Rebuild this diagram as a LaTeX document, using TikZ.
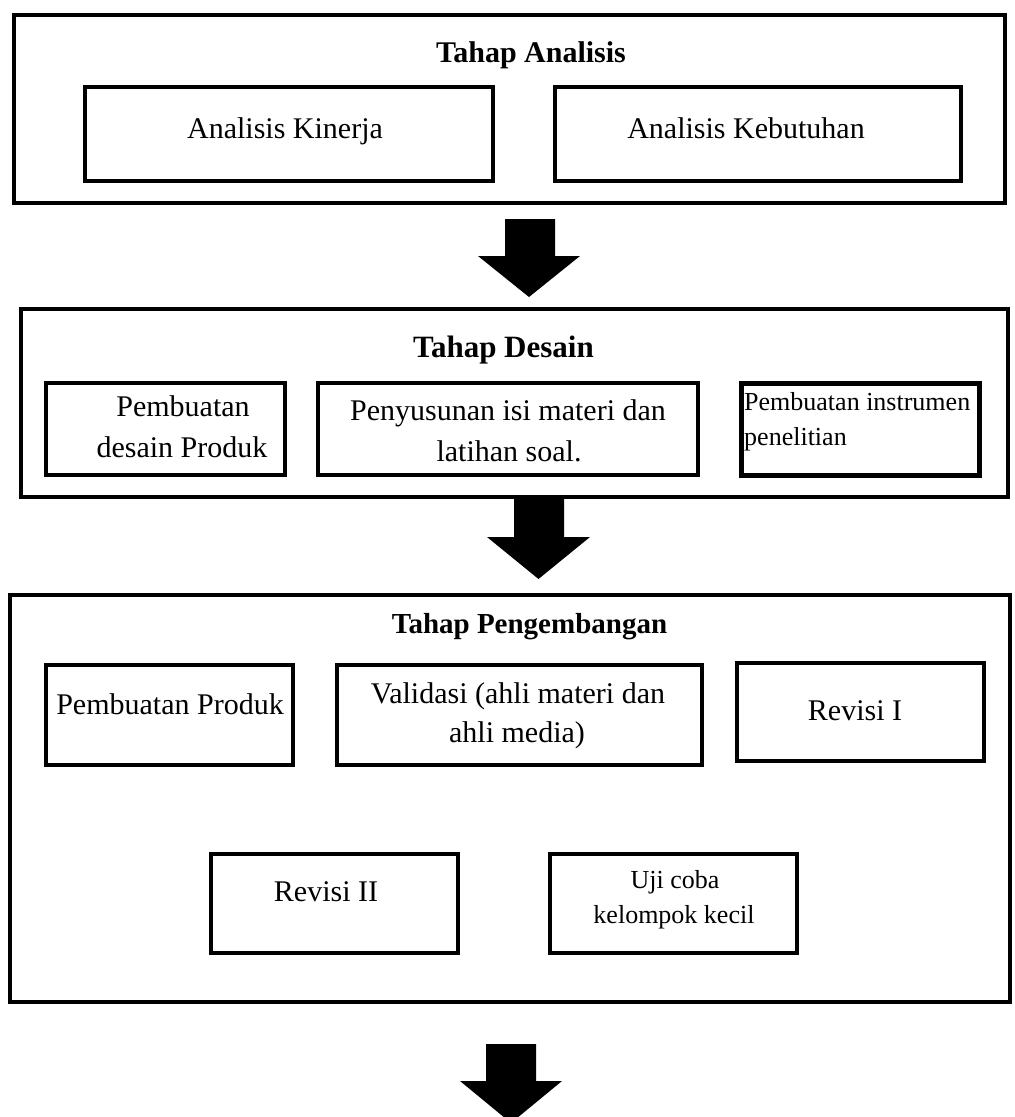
\documentclass[tikz,border=0pt]{standalone}
\usepackage{fontspec}
\setmainfont{Liberation Serif}
\begin{document}
\begin{tikzpicture}[x=1pt,y=-1pt,
  outerbox/.style={draw, line width=4pt, rectangle, inner sep=0pt},
  innerbox/.style={draw, line width=4.5pt, rectangle, inner sep=0pt},
  txt/.style={anchor=base, inner sep=0pt, font=\fontsize{30}{36}\selectfont},
  smalltxt/.style={anchor=base west, inner sep=0pt, font=\fontsize{26}{31}\selectfont},
  midtxt/.style={anchor=base, inner sep=0pt, font=\fontsize{26}{31}\selectfont},
  ttl/.style={anchor=base, inner sep=0pt, font=\bfseries\fontsize{30}{36}\selectfont},
  blockarrow/.style={fill=black, draw=none}]
\useasboundingbox[fill=white] (0,0) rectangle (1015,1117);

% ---- Tahap Analisis ----
\node[outerbox, minimum width=991pt, minimum height=188pt] (A) at (509.5,109) {};
\node[ttl] (Attl) at (531,62) {Tahap Analisis};
\node[innerbox, minimum width=408pt, minimum height=94pt] (ka) at (289,134) {};
\node[txt] (kat) at (285,138) {Analisis Kinerja};
\node[innerbox, minimum width=406pt, minimum height=94pt] (kb) at (758,134) {};
\node[txt] (kbt) at (746,138) {Analisis Kebutuhan};

% arrow 1
\fill[blockarrow] (505,219) -- (555,219) -- (555,256) -- (580,256) -- (529,297) -- (478,256) -- (505,256) -- cycle;

% ---- Tahap Desain ----
\node[outerbox, minimum width=987pt, minimum height=188pt] (D) at (514.5,403) {};
\node[ttl, font=\bfseries\fontsize{31}{37}\selectfont] (Dttl) at (503.5,357) {Tahap Desain};
\node[innerbox, minimum width=239pt, minimum height=92pt] (d1) at (165.5,429) {};
\node[txt] (d1a) at (183,416) {Pembuatan};
\node[txt] (d1b) at (182,457) {desain Produk};
\node[innerbox, minimum width=380pt, minimum height=92pt] (d2) at (508,429) {};
\node[txt] (d2a) at (508,420) {Penyusunan isi materi dan};
\node[txt] (d2b) at (509,461) {latihan soal.};
\node[innerbox, minimum width=238pt, minimum height=92pt] (d3) at (860.5,429.5) {};
\node[smalltxt] (d3a) at (744,410) {Pembuatan instrumen};
\node[smalltxt] (d3b) at (744,445) {penelitian};

% arrow 2
\fill[blockarrow] (514,499) -- (564,499) -- (564,537) -- (590,537) -- (538.5,579) -- (487,537) -- (514,537) -- cycle;

% ---- Tahap Pengembangan ----
\node[outerbox, minimum width=1000pt, minimum height=407pt] (P) at (510,798.5) {};
\node[ttl, font=\bfseries\fontsize{29}{35}\selectfont] (Pttl) at (529.5,633) {Tahap Pengembangan};
\node[innerbox, minimum width=247pt, minimum height=100pt] (p1) at (169.5,715) {};
\node[txt] (p1t) at (170,714) {Pembuatan Produk};
\node[innerbox, minimum width=365pt, minimum height=100pt] (p2) at (519.5,715) {};
\node[txt] (p2a) at (518,703) {Validasi (ahli materi dan};
\node[txt] (p2b) at (517,742) {ahli media)};
\node[innerbox, minimum width=247pt, minimum height=98pt] (p3) at (860.5,712) {};
\node[txt] (p3t) at (855,720) {Revisi I};
\node[innerbox, minimum width=247pt, minimum height=99pt] (p4) at (334.5,903.5) {};
\node[txt] (p4t) at (326,901) {Revisi II};
\node[innerbox, minimum width=247pt, minimum height=99pt] (p5) at (673.5,903.5) {};
\node[midtxt] (p5a) at (675,888) {Uji coba};
\node[midtxt] (p5b) at (674,923) {kelompok kecil};

% arrow 3
\fill[blockarrow] (486,1044) -- (536,1044) -- (536,1081) -- (562,1081) -- (511,1123) -- (460,1081) -- (486,1081) -- cycle;
\end{tikzpicture}
\end{document}
